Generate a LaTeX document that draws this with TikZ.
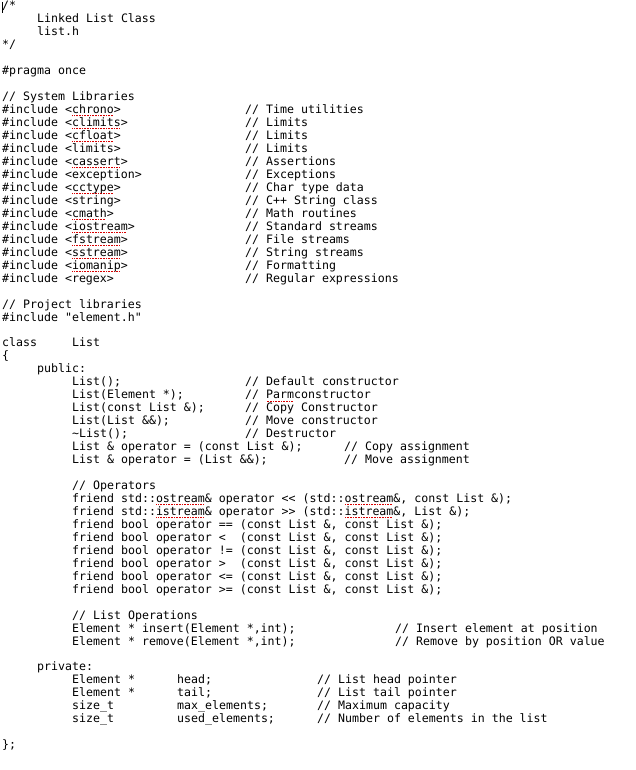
\documentclass[tikz,border=0pt]{standalone}
\usepackage{fontspec}
\setmonofont{DejaVu Sans Mono}
\newcommand\sq[1]{\setbox0\hbox{#1}\rlap{\raisebox{-2.6pt}{\color{red!85!black}\leaders\hbox to 1.6pt{\hss\rule{0.9pt}{0.9pt}\hss}\hskip\wd0}}\box0}
\newcommand\T[4]{\node[txt] (#1) at (#2,{10+12.96*#3}) {#4};}
\tikzset{txt/.style={anchor=base west,inner sep=0pt,font=\ttfamily\fontsize{11.6}{13}\selectfont,text=black}}
\begin{document}
\begin{tikzpicture}[x=1pt,y=-1pt]
\useasboundingbox (0,0) rectangle (635,770);
\fill[white] (0,0) rectangle (635,770);
\draw[line width=0.8pt] (2.5,2) -- (2.5,13);
\T{a0}{2}{0}{/*}
\T{a1}{37}{1}{Linked List Class}
\T{a2}{37}{2}{list.h}
\T{a3}{2}{3}{*/}
\T{a5}{2}{5}{\#pragma once}
\T{a7}{2}{7}{// System Libraries}
\T{i8}{2}{8}{\#include <\sq{chrono}>}
\T{i9}{2}{9}{\#include <\sq{climits}>}
\T{i10}{2}{10}{\#include <\sq{cfloat}>}
\T{i11}{2}{11}{\#include <limits>}
\T{i12}{2}{12}{\#include <\sq{cassert}>}
\T{i13}{2}{13}{\#include <exception>}
\T{i14}{2}{14}{\#include <\sq{cctype}>}
\T{i15}{2}{15}{\#include <string>}
\T{i16}{2}{16}{\#include <\sq{cmath}>}
\T{i17}{2}{17}{\#include <\sq{iostream}>}
\T{i18}{2}{18}{\#include <\sq{fstream}>}
\T{i19}{2}{19}{\#include <\sq{sstream}>}
\T{i20}{2}{20}{\#include <\sq{iomanip}>}
\T{i21}{2}{21}{\#include <regex>}
\T{c8}{245}{8}{// Time utilities}
\T{c9}{245}{9}{// Limits}
\T{c10}{245}{10}{// Limits}
\T{c11}{245}{11}{// Limits}
\T{c12}{245}{12}{// Assertions}
\T{c13}{245}{13}{// Exceptions}
\T{c14}{245}{14}{// Char type data}
\T{c15}{245}{15}{// C++ String class}
\T{c16}{245}{16}{// Math routines}
\T{c17}{245}{17}{// Standard streams}
\T{c18}{245}{18}{// File streams}
\T{c19}{245}{19}{// String streams}
\T{c20}{245}{20}{// Formatting}
\T{c21}{245}{21}{// Regular expressions}
\T{a23}{2}{23}{// Project libraries}
\T{a24}{2}{24}{\#include "element.h"}
\T{a26}{2}{26}{class}
\T{b26}{72}{26}{List}
\T{a27}{2}{27}{\{}
\T{a28}{37}{28}{public:}
\T{a29}{72}{29}{List();}
\T{a30}{72}{30}{List(Element *);}
\T{a31}{72}{31}{List(const List \&);}
\T{a32}{72}{32}{List(List \&\&);}
\T{a33}{72}{33}{\textasciitilde List();}
\T{a34}{72}{34}{List \& operator = (const List \&);}
\T{a35}{72}{35}{List \& operator = (List \&\&);}
\T{c29}{245}{29}{// Default constructor}
\T{c30}{245}{30}{// \sq{Parm} constructor}
\T{c31}{245}{31}{// Copy Constructor}
\T{c32}{245}{32}{// Move constructor}
\T{c33}{245}{33}{// Destructor}
\T{c34}{344}{34}{// Copy assignment}
\T{c35}{344}{35}{// Move assignment}
\T{a37}{72}{37}{// Operators}
\T{a38}{72}{38}{friend std::\sq{ostream} \& operator << (std::\sq{ostream} \&, const List \&);}
\T{a39}{72}{39}{friend std::\sq{istream} \& operator >> (std::\sq{istream} \&, List \&);}
\T{a40}{72}{40}{friend bool operator == (const List \&, const List \&);}
\T{a41}{72}{41}{friend bool operator < \ (const List \&, const List \&);}
\T{a42}{72}{42}{friend bool operator != (const List \&, const List \&);}
\T{a43}{72}{43}{friend bool operator > \ (const List \&, const List \&);}
\T{a44}{72}{44}{friend bool operator <= (const List \&, const List \&);}
\T{a45}{72}{45}{friend bool operator >= (const List \&, const List \&);}
\T{a47}{72}{47}{// List Operations}
\T{a48}{72}{48}{Element * insert(Element *,int);}
\T{a49}{72}{49}{Element * remove(Element *,int);}
\T{c48}{395}{48}{// Insert element at position}
\T{c49}{395}{49}{// Remove by position OR value}
\T{a51}{37}{51}{private:}
\T{a52}{72}{52}{Element *}
\T{a53}{72}{53}{Element *}
\T{a54}{72}{54}{size\_t}
\T{a55}{72}{55}{size\_t}
\T{b52}{177}{52}{head;}
\T{b53}{177}{53}{tail;}
\T{b54}{177}{54}{max\_elements;}
\T{b55}{177}{55}{used\_elements;}
\T{c52}{317}{52}{// List head pointer}
\T{c53}{317}{53}{// List tail pointer}
\T{c54}{317}{54}{// Maximum capacity}
\T{c55}{317}{55}{// Number of elements in the list}
\T{a57}{2}{57}{\};}
\end{tikzpicture}
\end{document}
